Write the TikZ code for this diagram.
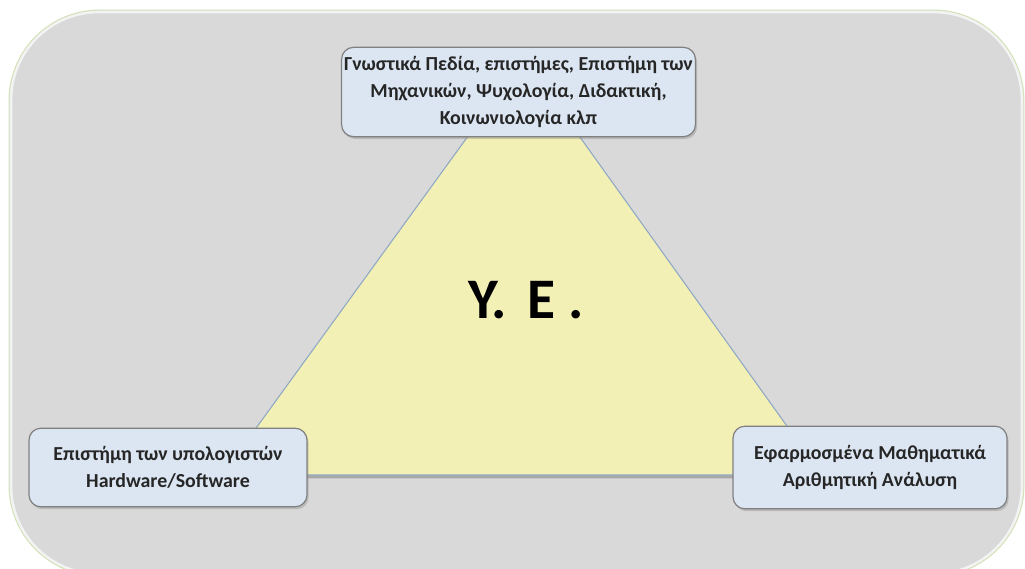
\documentclass[tikz,border=0pt]{standalone}
\usepackage{fontspec}
\setmainfont{Carlito}
\usepackage{xcolor}
\usetikzlibrary{shadows}
\definecolor{panelgray}{HTML}{D9D9D9}
\definecolor{panelrim}{HTML}{D3E2B4}
\definecolor{boxfill}{HTML}{DCE6F2}
\definecolor{boxrim}{HTML}{808080}
\definecolor{trifill}{HTML}{F2F0B4}
\definecolor{tririm}{HTML}{8FA8C4}
\definecolor{inktext}{HTML}{262626}

\begin{document}
\begin{tikzpicture}[
  x=0.75pt, y=-0.75pt,
  field/.style={draw=boxrim, line width=0.9pt, fill=boxfill, rounded corners=9pt,
                align=center, text=inktext, inner sep=2pt,
                font=\fontsize{14.9}{20}\selectfont\bfseries,
                drop shadow={shadow xshift=1.2pt, shadow yshift=-1.8pt, opacity=.35}},
  core/.style={draw=tririm, line width=0.8pt, fill=trifill,
               drop shadow={shadow xshift=1pt, shadow yshift=-2.5pt, opacity=.55}},
  title/.style={font=\fontsize{43}{50}\selectfont\bfseries, text=black}
]
  \useasboundingbox (0,0) rectangle (1025,568);
  \clip (0,0) rectangle (1025,568);

  % Background panel.
  \draw[fill=panelgray, draw=none, rounded corners=68pt]
    (9,10) rectangle (1024,576);
  \draw[white, opacity=.7, line width=2pt, rounded corners=66pt]
    (11,12) rectangle (1022,574);
  \draw[panelrim, line width=0.7pt, rounded corners=68pt]
    (9,10) rectangle (1024,576);

  % Triangle.
  \coordinate (apex) at (524,59);
  \coordinate (left) at (222,475);
  \coordinate (right) at (822,475);
  \path[core] (apex) -- (left) -- (right) -- cycle;
  \node[title] (ye) at (526,300) {Υ.\hspace{15pt}Ε .};

  % Corner fields.
  \node[field, minimum width=264.7pt, minimum height=67pt] (know) at (518.5,92)
    {Γνωστικά Πεδία, επιστήμες, Επιστήμη των\\
     Μηχανικών, Ψυχολογία, Διδακτική,\\
     Κοινωνιολογία κλπ};
  \node[field, minimum width=208.5pt, minimum height=59pt] (comp) at (168,467.5)
    {Επιστήμη των υπολογιστών\\ Hardware/Software};
  \node[field, minimum width=205.5pt, minimum height=62pt] (math) at (870,467.5)
    {Εφαρμοσμένα Μαθηματικά\\ Αριθμητική Ανάλυση};
\end{tikzpicture}
\end{document}
